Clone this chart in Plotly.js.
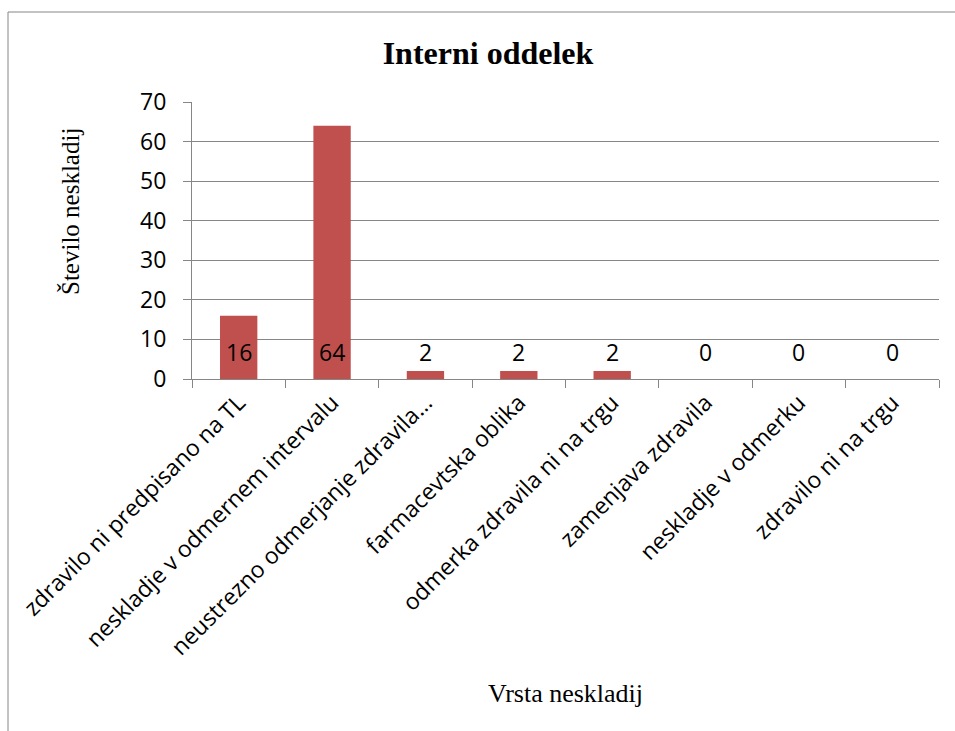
<!DOCTYPE html>
<html>
<head>
<meta charset="utf-8">
<script src="https://cdn.plot.ly/plotly-3.0.1.min.js"></script>
<style>html,body{margin:0;padding:0;background:#fff;}#chart{width:955px;height:731px;}</style>
</head>
<body>
<div id="chart"></div>
<script>
// ---- data ----
const categories = [
  "zdravilo ni predpisano na TL",
  "neskladje v odmernem intervalu",
  "neustrezno odmerjanje zdravila…",
  "farmacevtska oblika",
  "odmerka zdravila ni na trgu",
  "zamenjava zdravila",
  "neskladje v odmerku",
  "zdravilo ni na trgu"
];
const counts = [16, 64, 2, 2, 2, 0, 0, 0];
const yTickValues = [0, 10, 20, 30, 40, 50, 60, 70];
const chartTitle = "Interni oddelek";
const yTitle = "Število neskladij";
const xTitle = "Vrsta neskladij";

// ---- geometry ----
const W = 955, H = 731;
const M = {l: 192, r: 16, t: 102, b: 352};
const pw = W - M.l - M.r, ph = H - M.t - M.b;
const px = x => (x - M.l) / pw;          // pixel -> paper x
const py = y => (H - M.b - y) / ph;      // pixel -> paper y
const gridCol = "#868686";
const tickFont = {family: "Open Sans, sans-serif", size: 23, color: "#000"};
const serif = "Liberation Serif, Times New Roman, serif";

const trace = {
  type: "bar",
  x: categories,
  y: counts,
  width: 0.4,
  marker: {color: "#C0504D", line: {width: 0}},
  hoverinfo: "x+y"
};

const labelAnns = categories.map((c, i) => ({
  x: c, y: 0, xref: "x", yref: "y",
  text: String(counts[i]), showarrow: false,
  yanchor: "middle", yshift: 27,
  font: tickFont
}));

const layout = {
  width: W, height: H,
  margin: M,
  paper_bgcolor: "#fff", plot_bgcolor: "#fff",
  showlegend: false,
  bargap: 0.6,
  title: {
    text: "<b>" + chartTitle + "</b>",
    font: {family: serif, size: 32, color: "#000"},
    xref: "paper", x: px(488), xanchor: "center",
    yref: "container", y: 1 - 53 / H, yanchor: "middle"
  },
  xaxis: {
    type: "category",
    tickangle: -45,
    tickfont: tickFont,
    ticks: "outside", ticklen: 8, tickcolor: gridCol, tickwidth: 1,
    tickson: "boundaries",
    showline: true, linecolor: gridCol, linewidth: 1,
    showgrid: false, zeroline: false,
    automargin: false,
    title: {text: xTitle, font: {family: serif, size: 26, color: "#000"}, standoff: 23}
  },
  yaxis: {
    range: [0, 70],
    tickvals: yTickValues,
    tickfont: tickFont,
    ticks: "outside", ticklen: 8, tickcolor: gridCol, tickwidth: 1,
    ticklabelstandoff: 12,
    showline: true, linecolor: gridCol, linewidth: 1,
    showgrid: true, gridcolor: gridCol, gridwidth: 1,
    zeroline: false,
    automargin: false
  },
  annotations: labelAnns.concat([{
    xref: "paper", yref: "paper",
    x: px(70), y: py(212),
    text: yTitle, textangle: -90, showarrow: false,
    xanchor: "center", yanchor: "middle",
    font: {family: serif, size: 25, color: "#000"}
  }]),
  shapes: [
    {type: "line", xref: "paper", yref: "paper", x0: px(8), x1: px(8), y0: py(12), y1: py(H + 2), line: {color: gridCol, width: 1}, layer: "above"},
    {type: "line", xref: "paper", yref: "paper", x0: px(8), x1: px(W + 2), y0: py(12), y1: py(12), line: {color: gridCol, width: 1}, layer: "above"}
  ]
};

Plotly.newPlot("chart", [trace], layout, {displayModeBar: false, staticPlot: true});
</script>
</body>
</html>
